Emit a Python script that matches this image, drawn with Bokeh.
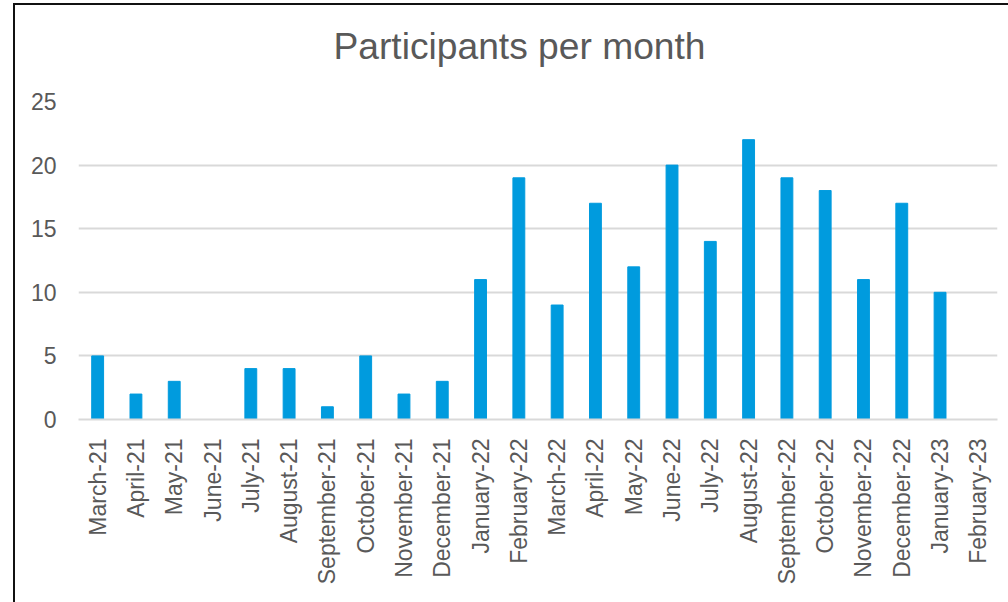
from bokeh.plotting import figure
from bokeh.embed import file_html
from bokeh.resources import INLINE
from bokeh.models import FixedTicker, Div
from bokeh.layouts import column
import math

months = ["March-21", "April-21", "May-21", "June-21", "July-21", "August-21",
          "September-21", "October-21", "November-21", "December-21",
          "January-22", "February-22", "March-22", "April-22", "May-22",
          "June-22", "July-22", "August-22", "September-22", "October-22",
          "November-22", "December-22", "January-23", "February-23"]
participants = [5, 2, 3, 0, 4, 4, 1, 5, 2, 3, 11, 19, 9, 17, 12, 20, 14, 22,
                19, 18, 11, 17, 10, 0]
y_ticks = [0, 5, 10, 15, 20, 25]

TEXT = "#595959"
GRID = "#d9d9d9"
FONT = "Liberation Sans"

# heading row above the plot
heading = Div(
    text=('<div style="margin:0;padding-top:23px;width:1009px;text-align:center;'
          "font-family:'Liberation Sans';font-size:37.2px;line-height:1;"
          f'color:{TEXT};white-space:nowrap">Participants per month</div>'),
    width=994, height=81, margin=0)

p = figure(x_range=months, y_range=(0, 25), width=994, height=517,
           output_backend="svg", toolbar_location=None,
           min_border_left=63, min_border_right=12,
           min_border_top=15, min_border_bottom=184)
p.margin = 0

p.vbar(x=months, top=participants, width=0.31, color="#009BDE")

p.outline_line_color = None
p.xgrid.grid_line_color = None
p.ygrid.grid_line_color = GRID
p.ygrid.grid_line_width = 2
p.yaxis.ticker = FixedTicker(ticks=y_ticks)

for ax in (p.xaxis, p.yaxis):
    ax.axis_line_color = None
    ax.major_tick_line_color = None
    ax.minor_tick_line_color = None
    ax.major_label_text_font = FONT
    ax.major_label_text_font_size = "23px"
    ax.major_label_text_color = TEXT

p.xaxis.axis_line_color = GRID
p.xaxis.axis_line_width = 2
p.xaxis.major_label_orientation = math.pi / 2
p.xaxis.major_label_standoff = 13
p.yaxis.major_label_standoff = 16

chart = column(heading, p, spacing=0)
chart.styles = {"border-left": "2px solid #111111", "border-top": "2px solid #111111",
                "margin-left": "13px", "margin-top": "3px"}

open("out.html", "w").write(file_html(chart, INLINE))
